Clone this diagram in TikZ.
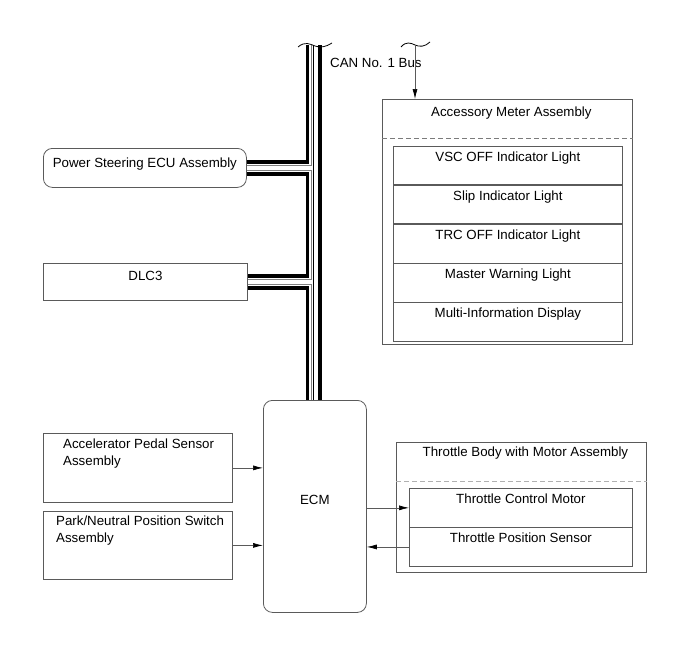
\documentclass[tikz,border=0pt]{standalone}
\usepackage{fontspec}
\setmainfont{Liberation Sans}
\usetikzlibrary{arrows.meta,positioning}
\definecolor{edge}{HTML}{5A5A5A}
\definecolor{softdash}{HTML}{B0B0B0}

\begin{document}
\begin{tikzpicture}[x=1pt,y=-1pt,node distance=0pt,>={Latex[length=10pt,width=5pt,black]},
  font=\fontsize{13.3}{17}\selectfont,
  box/.style={draw=edge,line width=0.8pt,inner sep=0pt,anchor=north west},
  row/.style={box,minimum width=229pt,minimum height=38.3pt},
  trow/.style={box,minimum width=223pt,minimum height=38.3pt},
  ttl/.style={anchor=north,inner sep=0pt,align=center,yshift=-#1},
  lft/.style={anchor=north west,inner sep=0pt,align=left,yshift=-6pt,xshift=#1},
  wire/.style={line width=3.4pt},
  inwire/.style={draw=gray,line width=0.6pt},
  sig/.style={draw=edge,line width=0.7pt},
  brk/.style={line width=0.8pt}]
\useasboundingbox (0,0) rectangle (690,659);

% units on the left
\node[box,rounded corners=9pt,minimum width=203pt,minimum height=39pt,
  label={[ttl=10pt]north:Power Steering ECU Assembly}] (ps) at (43,148) {};
\node[box,minimum width=204pt,minimum height=37pt,label={[ttl=8pt]north:DLC3}] (dlc) at (43,263) {};
\node[box,minimum width=189pt,minimum height=69pt,
  label={[lft=20pt]north west:Accelerator Pedal Sensor\\Assembly}] (acc) at (43,433) {};
\node[box,minimum width=189pt,minimum height=68pt,
  label={[lft=13pt,yshift=1pt]north west:Park/Neutral Position Switch\\Assembly}] (pns) at (43,511) {};

% ECM
\node[box,rounded corners=9pt,minimum width=103pt,minimum height=212pt,text depth=14pt] (ecm) at (263,400) {ECM};

% accessory meter
\node[box,minimum width=250pt,minimum height=245pt,
  label={[ttl=8pt,xshift=4pt]north:Accessory Meter Assembly}] (meter) at (382,99) {};
\draw[draw=edge!80,dash pattern=on 5pt off 3pt,line width=0.7pt]
  ([yshift=-39.5pt]meter.north west) -- ([yshift=-39.5pt]meter.north east);
\node[row,label={[ttl=5.5pt]north:VSC OFF Indicator Light}] (vsc) at (393,146) {};
\node[row,below=of vsc,label={[ttl=5.5pt]north:Slip Indicator Light}] (slip) {};
\node[row,below=of slip,label={[ttl=5.5pt]north:TRC OFF Indicator Light}] (trc) {};
\node[row,below=of trc,label={[ttl=5.5pt]north:Master Warning Light}] (mwl) {};
\node[row,below=of mwl,label={[ttl=5.5pt]north:Multi-Information Display}] (mid) {};

% throttle body
\node[box,minimum width=250pt,minimum height=130pt,
  label={[ttl=5pt,xshift=4pt]north:Throttle Body with Motor Assembly}] (thr) at (396,442) {};
\draw[draw=softdash,dash pattern=on 5pt off 3pt,line width=0.8pt]
  ([yshift=-39pt]thr.north west) -- ([yshift=-39pt]thr.north east);
\node[trow,label={[ttl=5pt]north:Throttle Control Motor}] (tcm) at (409,488.3) {};
\node[trow,below=of tcm,label={[ttl=5pt]north:Throttle Position Sensor}] (tps) {};

% CAN bus
\coordinate (busL) at (307.7,45);
\coordinate (busG) at (310.9,45);
\coordinate (busM) at (313.3,45);
\coordinate (busR) at (320,45);
\draw[wire] (busL) -- ([yshift=6pt]ps.east -| busL) -- ([yshift=6pt]ps.east);
\draw[wire] ([yshift=-6pt]ps.east) -- ([yshift=-6pt]ps.east -| busL)
  -- ([yshift=6pt]dlc.east -| busL) -- ([yshift=6pt]dlc.east);
\draw[wire] ([yshift=-6pt]dlc.east) -- ([yshift=-6pt]dlc.east -| busL) -- (busL |- ecm.north);
\draw[inwire] (busG) -- ([yshift=2.8pt]ps.east -| busG) -- ([yshift=2.8pt]ps.east);
\draw[inwire] ([yshift=-2.8pt]ps.east) -- ([yshift=-2.8pt]ps.east -| busG)
  -- ([yshift=2.8pt]dlc.east -| busG) -- ([yshift=2.8pt]dlc.east);
\draw[inwire] ([yshift=-2.8pt]dlc.east) -- ([yshift=-2.8pt]dlc.east -| busG) -- (busG |- ecm.north);
\draw[line width=0.7pt] (busM) -- (busM |- ecm.north);
\draw[wire] (busR) -- (busR |- ecm.north);
\draw[brk] (298,47) .. controls (305,41) and (310,44) .. (315,46) .. controls (320,48) and (326,47) .. (332,43);
\node[anchor=west,inner sep=0pt] (can) at (330,63) {CAN No. 1 Bus};

% meter input
\coordinate (mtop) at (415,45);
\draw[brk] (401,47) .. controls (406,41) and (411,43) .. (415,45) .. controls (419,47) and (425,47) .. (430,42);
\draw[sig,->] (mtop) -- (mtop |- meter.north);

% signals
\draw[sig,->] (acc.east) -- (acc.east -| ecm.west);
\draw[sig,->] (pns.east) -- (pns.east -| ecm.west);
\draw[sig,->] (tcm.west -| ecm.east) -- (tcm.west);
\draw[sig,->] (tps.west) -- (tps.west -| ecm.east);
\end{tikzpicture}
\end{document}
